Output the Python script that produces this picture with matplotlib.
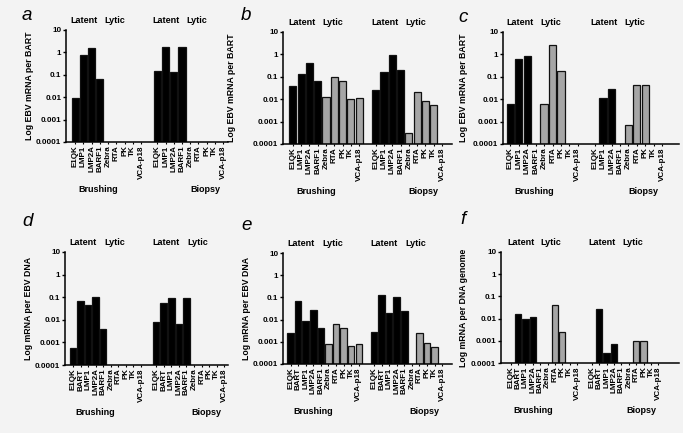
import numpy as np
import matplotlib.pyplot as plt

plt.rcParams['font.family'] = ['Liberation Sans', 'DejaVu Sans']
plt.rcParams['font.weight'] = 'bold'

nan = np.nan

# gene panels
genes_9 = ['E1QK', 'LMP1', 'LMP2A', 'BARF1', 'Zebra', 'RTA', 'PK', 'TK', 'VCA-p18']
genes_10 = ['E1QK', 'BART', 'LMP1', 'LMP2A', 'BARF1', 'Zebra', 'RTA', 'PK', 'TK', 'VCA-p18']
n_latent_9 = 4
n_latent_10 = 5

# values (nan = no bar)
a_brushing = [0.0092, 0.74, 1.57, 0.064, nan, nan, nan, nan, nan]
a_biopsy = [0.15, 1.74, 0.13, 1.74, nan, nan, nan, nan, nan]
b_brushing = [0.038, 0.13, 0.41, 0.068, 0.013, 0.096, 0.066, 0.0105, 0.0117]
b_biopsy = [0.025, 0.17, 0.96, 0.2, 0.0003, 0.022, 0.0083, 0.0055, nan]
c_brushing = [0.0063, 0.64, 0.81, nan, 0.0063, 2.7, 0.19, nan, nan]
c_biopsy = [nan, 0.011, 0.029, nan, 0.00068, 0.042, 0.042, nan, nan]
d_brushing = [0.00056, 0.066, 0.045, 0.099, 0.004, nan, nan, nan, nan, nan]
d_biopsy = [0.0079, 0.057, 0.095, 0.0067, 0.093, nan, nan, nan, nan, nan]
e_brushing = [0.0024, 0.071, 0.0084, 0.026, 0.0043, 0.00083, 0.0062, 0.0041, 0.00067, 0.00077]
e_biopsy = [0.0028, 0.124, 0.019, 0.108, 0.024, nan, 0.0025, 0.00091, 0.0006, nan]
f_brushing = [nan, 0.0155, 0.0096, 0.012, nan, nan, 0.041, 0.0026, nan, nan]
f_biopsy = [nan, 0.026, 0.00028, 0.0007, nan, nan, 0.001, 0.001, nan, nan]

ylab_bart = 'Log EBV mRNA per BART'
ylab_dna = 'Log mRNA per EBV DNA'
ylab_genome = 'Log mRNA per DNA genome'

yticks = [1e-4, 1e-3, 1e-2, 1e-1, 1, 10]
yticklabels = ['0.0001', '0.001', '0.01', '0.1', '1', '10']

W, H = 683, 433
bg = '#f3f3f3'
gray = '#a6a6a6'

# letter, genes, n_latent, brushing, biopsy, ylabel,
# box px (left, top, right, bottom), xlim, ylabel x px, letter xy px
panels = [
    ('a', genes_9, n_latent_9, a_brushing, a_biopsy, ylab_bart,
     (66, 30, 228, 142), (-1.13, 18.6), 29.5, (27, 16)),
    ('b', genes_9, n_latent_9, b_brushing, b_biopsy, ylab_bart,
     (283, 32, 452, 144), (-1.18, 19.2), 232, (246, 16)),
    ('c', genes_9, n_latent_9, c_brushing, c_biopsy, ylab_bart,
     (503, 32, 679, 144), (-0.87, 20.0), 463, (463, 17)),
    ('d', genes_10, n_latent_10, d_brushing, d_biopsy, ylab_dna,
     (65, 252, 228, 365), (-1.05, 20.5), 28.5, (28, 222)),
    ('e', genes_10, n_latent_10, e_brushing, e_biopsy, ylab_dna,
     (283, 253, 452, 364), (-1.0, 21.3), 246.5, (247, 225)),
    ('f', genes_10, n_latent_10, f_brushing, f_biopsy, ylab_genome,
     (501, 252, 679, 363), (-1.3, 22.8), 463, (463, 219)),
]

fig = plt.figure(figsize=(W / 100, H / 100), dpi=100, facecolor=bg)

for letter, genes, n_lat, brush, biop, ylab, box, xl, ylx, lxy in panels:
    l, t, r, b = box
    ax = fig.add_axes([l / W, 1 - b / H, (r - l) / W, (b - t) / H])
    ax.set_facecolor(bg)
    ax.set_yscale('log')
    ax.set_ylim(1e-4, 10)
    ax.set_xlim(*xl)

    n = len(genes)
    pos = []
    vals = []
    cols = []
    for off, series in ((0, brush), (n + 1, biop)):
        for i, v in enumerate(series):
            if np.isnan(v):
                continue
            pos.append(off + i)
            vals.append(v)
            cols.append('black' if i < n_lat else gray)
    vals = np.array(vals)
    ax.bar(pos, vals - 1e-4, bottom=1e-4, width=0.86, color=cols,
           edgecolor='#111111', linewidth=0.9, zorder=2)

    ax.set_yticks(yticks)
    ax.set_yticklabels(yticklabels, fontsize=5.8, fontweight='bold')
    ax.minorticks_off()
    ticks = list(range(n)) + list(range(n + 1, 2 * n + 1))
    ax.set_xticks(ticks)
    ax.set_xticklabels(genes + genes, rotation=90, fontsize=5.8, fontweight='bold')
    ax.tick_params(axis='y', length=2.5, width=1.0, pad=1)
    ax.tick_params(axis='x', length=1.5, width=0.8, pad=1)
    for s in ('top', 'right'):
        ax.spines[s].set_visible(False)
    for s in ('left', 'bottom'):
        ax.spines[s].set_linewidth(1.1)

    h = b - t
    tr = ax.get_xaxis_transform()
    if n == 9:
        lat_x, lyt_x, br_x, bi_x = 1.1, 4.8, 2.8, 5.8
    else:
        lat_x, lyt_x, br_x, bi_x = 1.35, 5.5, 3.0, 6.7
    for off in (0, n + 1):
        ax.text(off + lat_x, 1 + 9.8 / h, 'Latent', transform=tr, ha='center',
                va='center', fontsize=6.5, fontweight='bold', clip_on=False)
        ax.text(off + lyt_x, 1 + 9.8 / h, 'Lytic', transform=tr, ha='center',
                va='center', fontsize=6.5, fontweight='bold', clip_on=False)
    ax.text(br_x, -47.5 / h, 'Brushing', transform=tr, ha='center', va='center',
            fontsize=6.5, fontweight='bold', clip_on=False)
    ax.text(n + 1 + bi_x, -47.5 / h, 'Biopsy', transform=tr, ha='center', va='center',
            fontsize=6.5, fontweight='bold', clip_on=False)

    fig.text(ylx / W, 1 - (t + b) / 2 / H, ylab, rotation=90, ha='center',
             va='center', fontsize=6.3, fontweight='bold')
    fig.text(lxy[0] / W, 1 - lxy[1] / H, letter, ha='center', va='center',
             fontsize=13.5, fontstyle='italic', fontweight='normal')

fig.savefig('out.png', dpi=100, facecolor=bg)
